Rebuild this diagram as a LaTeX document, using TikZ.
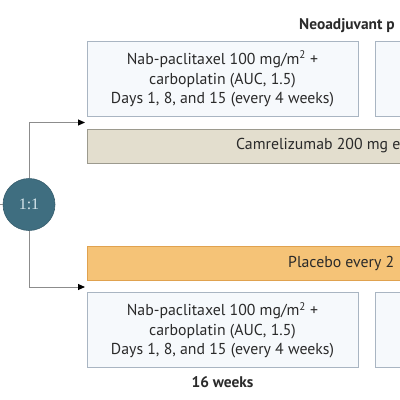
\documentclass[tikz,border=0pt]{standalone}
\usepackage{fontspec}
\setmainfont{PT Sans}
\newfontfamily\ratiofont{Liberation Serif}
\usetikzlibrary{arrows.meta}
\definecolor{txt}{HTML}{2A2A2A}
\definecolor{boxfill}{HTML}{F6F9FC}
\definecolor{boxline}{HTML}{A9B5C2}
\definecolor{camfill}{HTML}{E3DECE}
\definecolor{camline}{HTML}{9C9A8E}
\definecolor{plafill}{HTML}{F5C377}
\definecolor{plaline}{HTML}{E0A24F}
\definecolor{teal}{HTML}{3F6E80}
\definecolor{ratiotxt}{HTML}{D6E6EC}
\definecolor{conn}{HTML}{8C8C8C}
\tikzset{
  regimen/.style={draw=boxline, fill=boxfill, line width=1pt, rectangle, inner sep=0pt,
    minimum width=271pt, minimum height=75pt, align=center, text=txt,
    font=\fontsize{15.8}{19.8}\selectfont},
  sidebox/.style={draw=boxline, fill=boxfill, line width=1pt, rectangle, inner sep=0pt,
    minimum width=60pt, minimum height=75pt},
  cambar/.style={draw=camline, fill=camfill, line width=1pt, rectangle, inner sep=0pt,
    minimum width=340pt, minimum height=34pt},
  plabar/.style={draw=plaline, fill=plafill, line width=1pt, rectangle, inner sep=0pt,
    minimum width=340pt, minimum height=34pt},
  bartext/.style={anchor=west, inner sep=0pt, text=txt, font=\fontsize{15.8}{18}\selectfont},
  boldlabel/.style={inner sep=0pt, text=txt, font=\fontsize{15.4}{18}\selectfont\bfseries},
  ratio/.style={circle, fill=teal, draw=teal!85!black, line width=0.6pt, minimum size=52pt,
    inner sep=0pt, text=ratiotxt, font=\ratiofont\fontsize{16}{18}\selectfont},
  link/.style={draw=conn, line width=1pt},
  arrowlink/.style={link, -{Triangle[length=7pt,width=6pt,fill=black,color=black]}}
}
\begin{document}
\begin{tikzpicture}[x=1pt,y=-1pt]
\useasboundingbox (0,0) rectangle (400,400);
\clip (0,0) rectangle (400,400);
\fill[white] (0,0) rectangle (400,400);

\node[boldlabel, anchor=base west] (title) at (299,29.5) {Neoadjuvant p};

\node[regimen] (b1) at (222.5,79.2) {Nab-paclitaxel 100 mg/m\textsuperscript{2} +\\carboplatin (AUC, 1.5)\\Days 1, 8, and 15 (every 4 weeks)};
\node[sidebox] (b2) at (405,79.2) {};

\node[cambar] (cam) at (257,146) {};
\node[bartext] (camtext) at (236,146) {Camrelizumab 200 mg e};

\node[plabar] (pla) at (257,263.5) {};
\node[bartext] (platext) at (288,263.5) {Placebo every 2};

\node[regimen] (b3) at (222.5,330.3) {Nab-paclitaxel 100 mg/m\textsuperscript{2} +\\carboplatin (AUC, 1.5)\\Days 1, 8, and 15 (every 4 weeks)};
\node[sidebox] (b4) at (405,330.3) {};

\node[boldlabel] (weeks) at (222.5,382) {16 weeks};

\node[ratio] (r) at (29,204.5) {1:1};

\coordinate (stub) at (-2,204.5);
\coordinate (tA) at (85,122.5);
\coordinate (tB) at (85,287);
\draw[link] (stub) -- (r.west);
\draw[arrowlink] (r.north) |- (tA);
\draw[arrowlink] (r.south) |- (tB);
\end{tikzpicture}
\end{document}
